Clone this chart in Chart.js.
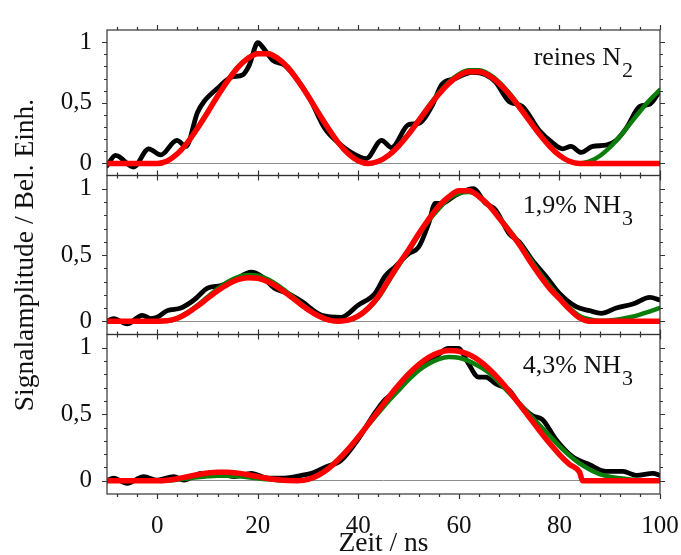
<!DOCTYPE html>
<html>
<head>
<meta charset="utf-8">
<script src="https://cdn.jsdelivr.net/npm/chart.js"></script>
<style>
  body { margin: 0; background: #fff; }
  #wrap { position: relative; width: 681px; height: 555px; }
  #wrap canvas { position: absolute; left: 0; top: 0; }
</style>
</head>
<body>
<div id="wrap">
  <canvas id="p1" width="681" height="555"></canvas>
  <canvas id="p2" width="681" height="555"></canvas>
  <canvas id="p3" width="681" height="555"></canvas>
</div>
<script>
// time axis of the fitted curves (ns)
const fitX = [-10,-8,-6,-4,-2,0,2,4,6,8,10,12,14,16,18,20,22,24,26,28,30,32,34,36,38,40,42,44,46,48,50,52,54,56,58,60,62,64,66,68,70,72,74,76,78,80,82,84,86,88,90,92,94,96,98,100];
const cutX = [-10,-8,-6,-4,-2,0,2,4,6,8,10,12,14,16,18,20,22,24,26,28,30,32,34,36,38,40,42,44,46,48,50,52,54,56,58,60,62,64,66,68,70,72,74,76,78,80,82,84,84.6,86,88,90,92,94,96,98,100];

// reines N2
const measX1 = [-10,-8.3,-4.7,-1.7,0.7,3.9,5.7,8,9.3,12,14.7,17,18.3,20,21.3,23,25.3,28,30.5,33.3,36,38.6,41.6,44.6,46.6,50,52,54.6,56.6,59.3,62.6,65.3,67.3,70,72.6,76,78.6,80.6,82.3,84.3,86.6,89.3,91.3,93.3,96,98,100];
const measY1 = [-0.02,0.066,-0.03,0.12,0.07,0.19,0.14,0.42,0.51,0.62,0.71,0.73,0.81,0.995,0.94,0.85,0.81,0.68,0.52,0.29,0.17,0.09,0.04,0.19,0.13,0.32,0.33,0.47,0.65,0.70,0.75,0.73,0.67,0.51,0.47,0.27,0.17,0.12,0.14,0.09,0.14,0.15,0.19,0.29,0.47,0.49,0.6];
const green1 = [0,0,0,0,0,0,0.02,0.08,0.172,0.292,0.423,0.558,0.683,0.792,0.868,0.908,0.908,0.868,0.792,0.683,0.558,0.423,0.292,0.172,0.08,0.02,0,0.017,0.067,0.146,0.246,0.358,0.473,0.58,0.67,0.735,0.768,0.768,0.735,0.67,0.58,0.473,0.358,0.246,0.146,0.067,0.017,0,0.016,0.061,0.131,0.222,0.324,0.428,0.525,0.606];
const red1 = [0,0,0,0,0,0,0.02,0.079,0.171,0.29,0.42,0.556,0.68,0.79,0.865,0.905,0.905,0.865,0.79,0.68,0.556,0.42,0.29,0.171,0.079,0.02,0,0.017,0.066,0.143,0.241,0.352,0.465,0.57,0.659,0.723,0.756,0.756,0.723,0.659,0.57,0.465,0.352,0.241,0.143,0.066,0.017,0,0,0,0,0,0,0,0,0];

// 1,9% NH3
const measX2 = [-10,-8.7,-6,-3,-1.3,0,2,4.7,7.3,10,12.7,15.3,18.7,20.7,23.3,26,28.7,32.7,36.6,39.9,43.3,45.3,47.3,50,52,54,55.3,56.6,59.3,62.9,65.3,67.3,70,72,74.6,77.3,80,83.3,86,88.3,91.3,94.6,98,100];
const measY2 = [0,0.02,-0.02,0.045,0.02,0.03,0.08,0.1,0.16,0.25,0.27,0.31,0.37,0.34,0.25,0.21,0.15,0.045,0.03,0.12,0.21,0.34,0.41,0.51,0.56,0.74,0.89,0.89,0.95,1.0,0.89,0.84,0.66,0.6,0.46,0.34,0.21,0.11,0.08,0.06,0.1,0.13,0.18,0.16];
const green2 = [0,0,0,0,0,0,0.003,0.024,0.066,0.121,0.183,0.244,0.296,0.333,0.349,0.343,0.317,0.271,0.214,0.152,0.092,0.043,0.011,0,0.008,0.038,0.095,0.18,0.3,0.42,0.53,0.65,0.76,0.85,0.925,0.965,0.975,0.945,0.875,0.785,0.69,0.59,0.48,0.37,0.27,0.18,0.1,0.04,0.015,0.003,0.005,0.015,0.03,0.05,0.075,0.1];
const red2 = [0,0,0,0,0,0,0.003,0.023,0.062,0.114,0.173,0.23,0.279,0.314,0.329,0.324,0.299,0.256,0.202,0.143,0.087,0.041,0.01,0,0.008,0.04,0.1,0.19,0.31,0.43,0.54,0.66,0.77,0.87,0.94,0.985,0.985,0.94,0.872,0.778,0.68,0.58,0.46,0.35,0.25,0.17,0.09,0.025,0,0,0,0,0,0,0,0];

// 4,3% NH3
const measX3 = [-10,-8.7,-6,-2.7,0,3.3,5.3,8.7,12,15.3,18.7,22,25.3,28.7,30.7,33.3,36.6,39.9,43.3,45.3,47.9,50,52.6,55.3,57.9,59.9,61.9,63.9,65.3,67.3,70,72,74.6,76.6,79.3,82.6,86,89.3,92.6,95.3,98.6,100];
const measY3 = [0,0.02,-0.02,0.03,0.005,0.03,0.005,0.055,0.055,0.03,0.055,0.02,0.02,0.04,0.055,0.1,0.155,0.31,0.51,0.61,0.68,0.78,0.88,0.93,0.995,0.995,0.88,0.78,0.78,0.73,0.68,0.58,0.49,0.46,0.31,0.18,0.12,0.07,0.07,0.04,0.055,0.04];
const green3 = [0,0,0,0,0,0,0.002,0.008,0.017,0.026,0.033,0.037,0.037,0.033,0.026,0.018,0.01,0.004,0.001,0,0.01,0.04,0.09,0.16,0.24,0.33,0.42,0.51,0.6,0.68,0.76,0.83,0.88,0.915,0.93,0.925,0.9,0.86,0.81,0.74,0.66,0.58,0.5,0.42,0.34,0.26,0.19,0.13,0.085,0.05,0.03,0.018,0.01,0.006,0.004,0.003];
const red3 = [0,0,0,0,0,0,0.004,0.015,0.03,0.045,0.058,0.064,0.064,0.057,0.045,0.031,0.017,0.007,0.001,0,0.01,0.041,0.09,0.157,0.238,0.329,0.427,0.528,0.627,0.72,0.804,0.874,0.928,0.963,0.979,0.974,0.949,0.904,0.84,0.763,0.674,0.576,0.477,0.378,0.283,0.197,0.123,0.064,0,0,0,0,0,0,0,0,0];

const xTickLabels = [0, 20, 40, 60, 80, 100];
const yTickLabels = [0, 0.5, 1];

const serif = "'Liberation Serif', 'Times New Roman', serif";
const W = 681, plotLeft = 107, plotRight = 660;

function pts(xs, ys) {
  return xs.map((x, i) => ({ x: x, y: ys[i] }));
}

// frame, outward tick marks and the panel label
const framePlugin = {
  id: 'frame',
  afterDraw(chart, args, opts) {
    const { ctx, chartArea: a, scales: { x, y } } = chart;
    ctx.save();
    ctx.strokeStyle = '#333';
    ctx.lineWidth = 1.2;
    ctx.strokeRect(a.left, a.top, a.right - a.left, a.bottom - a.top);
    ctx.beginPath();
    for (let v = -8; v <= 100; v += 4) {
      const px = Math.round(x.getPixelForValue(v)) + 0.5;
      const len = v % 20 === 0 ? 5 : 3;
      ctx.moveTo(px, a.top); ctx.lineTo(px, a.top - len);
      ctx.moveTo(px, a.bottom); ctx.lineTo(px, a.bottom + len);
    }
    for (let k = 0; k <= 10; k++) {
      const py = Math.round(y.getPixelForValue(k / 10)) + 0.5;
      const len = k % 5 === 0 ? 5 : 3;
      ctx.moveTo(a.left, py); ctx.lineTo(a.left - len, py);
      ctx.moveTo(a.right, py); ctx.lineTo(a.right + len, py);
    }
    ctx.stroke();

    // label with subscript
    ctx.fillStyle = '#111';
    ctx.textBaseline = 'alphabetic';
    ctx.font = '26px ' + serif;
    const w1 = ctx.measureText(opts.main).width;
    ctx.font = '22px ' + serif;
    const w2 = ctx.measureText(opts.sub).width;
    const x0 = 633 - w1 - w2 - 1;
    const base = a.top + opts.base;
    ctx.font = '26px ' + serif;
    ctx.fillText(opts.main, x0, base);
    ctx.font = '22px ' + serif;
    ctx.fillText(opts.sub, x0 + w1 + 1, base + 12);
    ctx.restore();
  }
};

function makePanel(id, top, bottom, meas, green, red, label, cfg) {
  const last = cfg.last;
  new Chart(document.getElementById(id), {
    type: 'line',
    data: {
      datasets: [
        { data: red, borderColor: '#ff0000', borderWidth: 5.5 },
        { data: green, borderColor: '#0a7d0a', borderWidth: 4.5 },
        { data: meas, borderColor: '#000000', borderWidth: 4.8 }
      ]
    },
    options: {
      responsive: false,
      animation: false,
      events: [],
      layout: {
        padding: { left: 0, right: W - plotRight, top: top, bottom: last ? 0 : 555 - bottom }
      },
      elements: {
        point: { radius: 0 },
        line: { cubicInterpolationMode: 'monotone', borderCapStyle: 'round', borderJoinStyle: 'round' }
      },
      plugins: {
        legend: { display: false },
        tooltip: { enabled: false },
        frame: label
      },
      scales: {
        x: {
          type: 'linear',
          min: -10,
          max: 100,
          display: last,
          afterFit(scale) {
            if (last) scale.height = 555 - bottom;
            scale.paddingLeft = 0;
            scale.paddingRight = 0;
          },
          afterBuildTicks(scale) { scale.ticks = xTickLabels.map(v => ({ value: v })); },
          grid: { display: false, drawTicks: false },
          border: { display: false },
          ticks: {
            autoSkip: false,
            maxRotation: 0,
            padding: 17,
            color: '#111',
            font: { family: serif, size: 25 }
          },
          title: {
            display: last,
            text: 'Zeit / ns',
            color: '#111',
            font: { family: serif, size: 27.5, lineHeight: 1 },
            padding: { top: 0, bottom: -3 }
          }
        },
        y: {
          min: -0.1,
          max: 1.1,
          afterFit(scale) { scale.width = plotLeft; },
          afterBuildTicks(scale) { scale.ticks = yTickLabels.map(v => ({ value: v })); },
          grid: {
            drawTicks: false,
            lineWidth: 1,
            color: c => (c.tick && c.tick.value === 0) ? '#8c8c8c' : 'rgba(0,0,0,0)'
          },
          border: { display: false },
          ticks: {
            padding: 15,
            color: '#111',
            font: { family: serif, size: 25 },
            callback: v => String(v).replace('.', ',')
          },
          title: {
            display: !!cfg.yTitle,
            text: 'Signalamplitude / Bel. Einh.',
            color: '#111',
            font: { family: serif, size: 27.5, lineHeight: 1.2 },
            padding: { top: 9, bottom: 0 }
          }
        }
      }
    },
    plugins: [framePlugin]
  });
}

makePanel('p1', 17, 175.5, pts(measX1, measY1), pts(fitX, green1), pts(fitX, red1),
  { main: 'reines N', sub: '2', base: 35 }, { last: false });
makePanel('p2', 175.5, 334.5, pts(measX2, measY2), pts(fitX, green2), pts(fitX, red2),
  { main: '1,9% NH', sub: '3', base: 37 }, { last: false, yTitle: true });
makePanel('p3', 334.5, 494, pts(measX3, measY3), pts(fitX, green3), pts(cutX, red3),
  { main: '4,3% NH', sub: '3', base: 38 }, { last: true });
</script>
</body>
</html>
